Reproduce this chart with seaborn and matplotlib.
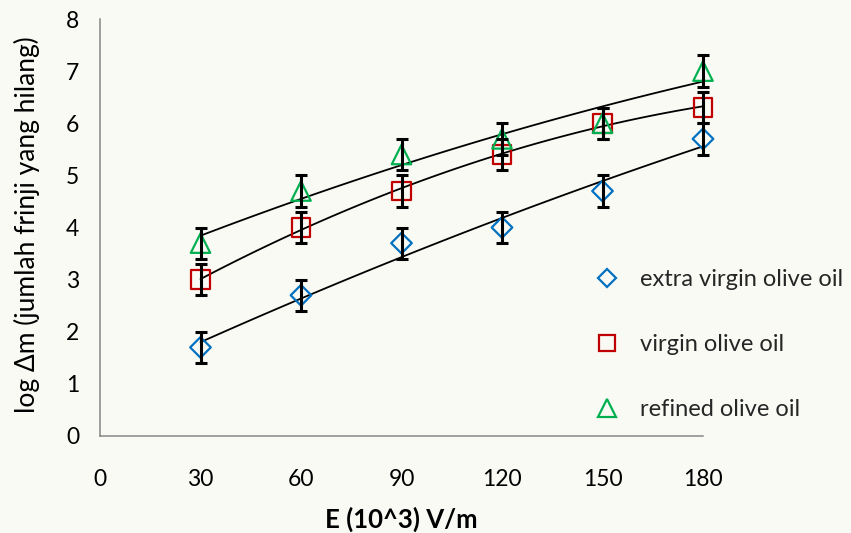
import numpy as np
import pandas as pd
import matplotlib
matplotlib.use("Agg")
import matplotlib.pyplot as plt
import seaborn as sns
from matplotlib.lines import Line2D

# ---- data ----
E = [30, 60, 90, 120, 150, 180]
extra_virgin = [1.7, 2.7, 3.7, 4.0, 4.7, 5.7]
virgin = [3.0, 4.0, 4.7, 5.4, 6.0, 6.3]
refined = [3.7, 4.7, 5.4, 5.7, 6.0, 7.0]
err_extra = [0.3, 0.3, 0.3, 0.3, 0.3, 0.3]
err_virgin = [0.3, 0.3, 0.3, 0.3, 0.3, 0.3]
err_refined = [0.3, 0.3, 0.3, 0.3, 0.3, 0.3]
labels = ["extra virgin olive oil", "virgin olive oil", "refined olive oil"]
x_ticks = [0, 30, 60, 90, 120, 150, 180]
y_ticks = [0, 1, 2, 3, 4, 5, 6, 7, 8]
x_label = "E (10^3) V/m"
y_label = "log \u0394m (jumlah frinji yang hilang)"

bg = "#fafaf5"
sns.set_theme(style="white")
plt.rcParams["font.family"] = ["Lato", "DejaVu Sans"]

fig = plt.figure(figsize=(8.51, 5.33), dpi=100, facecolor=bg)
ax = fig.add_axes([100 / 851, 1 - 436 / 533, 603 / 851, 417 / 533])
ax.set_facecolor(bg)

series = [
    (extra_virgin, err_extra, labels[0], "D", 10.5, "#0070C0"),
    (virgin, err_virgin, labels[1], "s", 13.5, "#C00000"),
    (refined, err_refined, labels[2], "^", 14, "#00B050"),
]

handles = []
for y, err, lab, mk, ms, col in series:
    sns.regplot(x=E, y=y, order=2, ci=None, scatter=False, truncate=True,
                color="black", line_kws=dict(lw=1.3, zorder=2), ax=ax)
    sns.scatterplot(x=E, y=y, marker=mk, s=ms ** 2, facecolors="none",
                    edgecolors=col, linewidth=1.6, ax=ax, zorder=3,
                    legend=False, clip_on=False)
    ax.errorbar(E, y, yerr=err, fmt="none", ecolor="black", elinewidth=2.2,
                capsize=4.3, capthick=2.2, zorder=4, clip_on=False)
    handles.append(Line2D([], [], ls="none", marker=mk, markersize=ms * 0.88,
                          markerfacecolor="none", markeredgecolor=col,
                          markeredgewidth=1.6))

ax.set_xlim(0, 180)
ax.set_ylim(0, 8)
ax.set_xticks(x_ticks)
ax.set_yticks(y_ticks)
ax.tick_params(axis="both", direction="out", length=6, width=1.1,
               color="#868686", labelsize=16.5, labelcolor="black")
ax.tick_params(axis="x", pad=18)
ax.tick_params(axis="y", pad=9)
for s in ["top", "right"]:
    ax.spines[s].set_visible(False)
for s in ["left", "bottom"]:
    ax.spines[s].set_color("#868686")
    ax.spines[s].set_linewidth(1.1)

ax.set_xlabel(x_label, fontsize=18.5, fontweight="bold", color="black", labelpad=12)
ax.set_ylabel(y_label, fontsize=19, color="black")
ax.yaxis.set_label_coords(-0.1, 0.508)

ax.legend(handles, labels, loc="upper left", bbox_to_anchor=(595 / 851, 1 - 269 / 533),
          bbox_transform=fig.transFigure, frameon=False, fontsize=17,
          labelspacing=1.86, handlelength=1.0, handletextpad=0.9,
          borderpad=0, borderaxespad=0)

fig.savefig("out.png", dpi=100, facecolor=bg)
